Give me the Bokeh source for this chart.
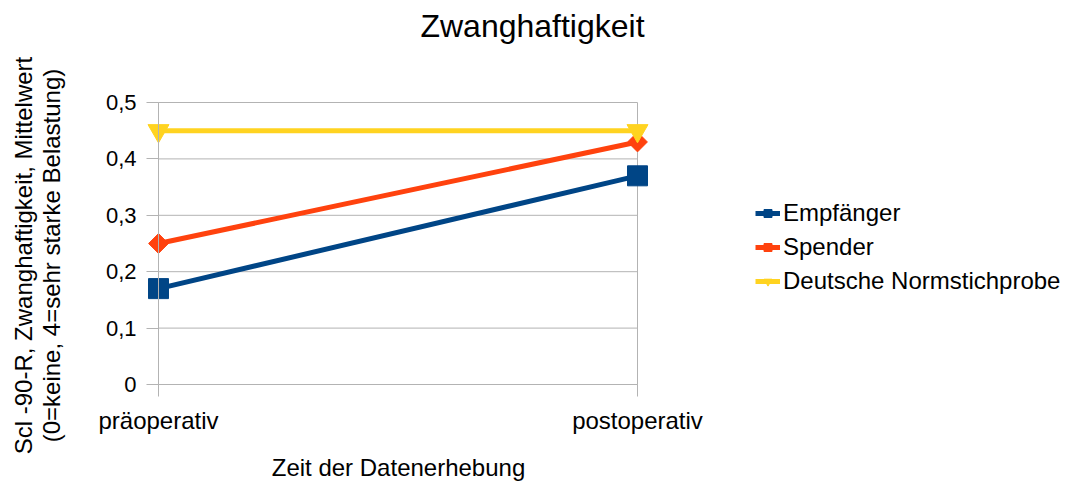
import math
from bokeh.plotting import figure
from bokeh.models import Range1d, FixedTicker, Legend, LegendItem, Label
from bokeh.embed import file_html
from bokeh.resources import INLINE

# ---- data ----
categories = ["präoperativ", "postoperativ"]
series_names = ["Empfänger", "Spender", "Deutsche Normstichprobe"]
empfaenger = [0.17, 0.37]
spender = [0.25, 0.43]
normstichprobe = [0.45, 0.45]
y_ticks = [0, 0.1, 0.2, 0.3, 0.4, 0.5]
y_tick_labels = ["0", "0,1", "0,2", "0,3", "0,4", "0,5"]
title_text = "Zwanghaftigkeit"
x_label = "Zeit der Datenerhebung"
y_label_lines = ["Scl -90-R, Zwanghaftigkeit, Mittelwert",
                 "(0=keine, 4=sehr starke Belastung)"]

# ---- layout / style ----
FONT = "Liberation Sans"
colors = ["#004586", "#ff420e", "#ffd320"]
GRID = "#b3b3b3"
W, H = 1077, 481
X0_PX, X1_PX = 158, 637     # pixel position of first / last category
Y0_PX, Y1_PX = 384, 102     # pixel position of y=0 / y=top tick
xs = list(range(len(categories)))
sx = (X1_PX - X0_PX) / (xs[-1] - xs[0])
sy = (Y0_PX - Y1_PX) / (y_ticks[-1] - y_ticks[0])
x_range = Range1d(xs[0] - X0_PX / sx, xs[0] + (W - X0_PX) / sx)
y_range = Range1d(y_ticks[0] - (H - Y0_PX) / sy, y_ticks[0] + Y0_PX / sy)

p = figure(width=W, height=H, output_backend="svg", toolbar_location=None,
           title=None, x_range=x_range, y_range=y_range,
           min_border=0, min_border_left=0, min_border_right=0,
           min_border_top=0, min_border_bottom=0, outline_line_color=None)
p.background_fill_color = "white"
p.border_fill_color = "white"
p.xgrid.visible = False
p.ygrid.visible = False

# grid lines restricted to the plotting area of the categories
n = len(y_ticks)
p.segment(x0=[xs[0]] * n, x1=[xs[-1]] * n, y0=y_ticks, y1=y_ticks,
          line_color=GRID, line_width=1)
p.segment(x0=xs, x1=xs, y0=[y_ticks[0]] * len(xs), y1=[y_ticks[-1]] * len(xs),
          line_color=GRID, line_width=1)

# x axis at y = 0
xa = p.xaxis[0]
xa.fixed_location = y_ticks[0]
xa.ticker = FixedTicker(ticks=xs)
xa.major_label_overrides = {i: c for i, c in enumerate(categories)}
xa.bounds = (xs[0], xs[-1])
xa.axis_line_color = GRID
xa.major_tick_line_color = GRID
xa.major_tick_out = 12
xa.major_tick_in = 0
xa.minor_tick_line_color = None
xa.major_label_standoff = 10
xa.major_label_text_font = FONT
xa.major_label_text_font_size = "24px"
xa.major_label_text_color = "black"

# y axis at first category
ya = p.yaxis[0]
ya.fixed_location = xs[0]
ya.ticker = FixedTicker(ticks=y_ticks)
ya.major_label_overrides = {t: l for t, l in zip(y_ticks, y_tick_labels)}
ya.bounds = (y_ticks[0], y_ticks[-1])
ya.axis_line_color = GRID
ya.major_tick_line_color = GRID
ya.major_tick_out = 12
ya.major_tick_in = 0
ya.minor_tick_line_color = None
ya.major_label_standoff = 10
ya.major_label_text_font = FONT
ya.major_label_text_font_size = "22px"
ya.major_label_text_color = "black"

# series
specs = [
    (series_names[0], empfaenger, colors[0], "square", 20, 0.0),
    (series_names[1], spender, colors[1], "square", 14, math.pi / 4),
    (series_names[2], normstichprobe, colors[2], "inverted_triangle", 21, 0.0),
]
items = []
for name, vals, col, marker, size, ang in specs:
    ln = p.line(xs, vals, line_color=col, line_width=5)
    sc = p.scatter(xs, vals, marker=marker, size=size, angle=ang,
                   fill_color=col, line_color=col)
    items.append(LegendItem(label=name, renderers=[ln, sc]))

legend = Legend(items=items, location=(755, 186), border_line_color=None,
                background_fill_alpha=0, padding=0, margin=0, spacing=6,
                glyph_width=25, glyph_height=20, label_height=20, label_standoff=3,
                label_text_font=FONT, label_text_font_size="24px",
                label_text_color="black")
p.add_layout(legend)

# texts (screen units, origin bottom-left of the canvas-sized frame)
p.add_layout(Label(x=532, y=H - 25, x_units="screen", y_units="screen", text=title_text,
                   text_align="center", text_baseline="middle", text_font=FONT,
                   text_font_size="32px", text_color="black"))
p.add_layout(Label(x=398, y=H - 467, x_units="screen", y_units="screen", text=x_label,
                   text_align="center", text_baseline="middle", text_font=FONT,
                   text_font_size="24px", text_color="black"))
for xpos, line in zip([23, 51], y_label_lines):
    p.add_layout(Label(x=xpos, y=H - 255, x_units="screen", y_units="screen",
                       text=line, angle=math.pi / 2, text_align="center",
                       text_baseline="middle", text_font=FONT,
                       text_font_size="24px", text_color="black"))

open("out.html", "w").write(file_html(p, INLINE))
